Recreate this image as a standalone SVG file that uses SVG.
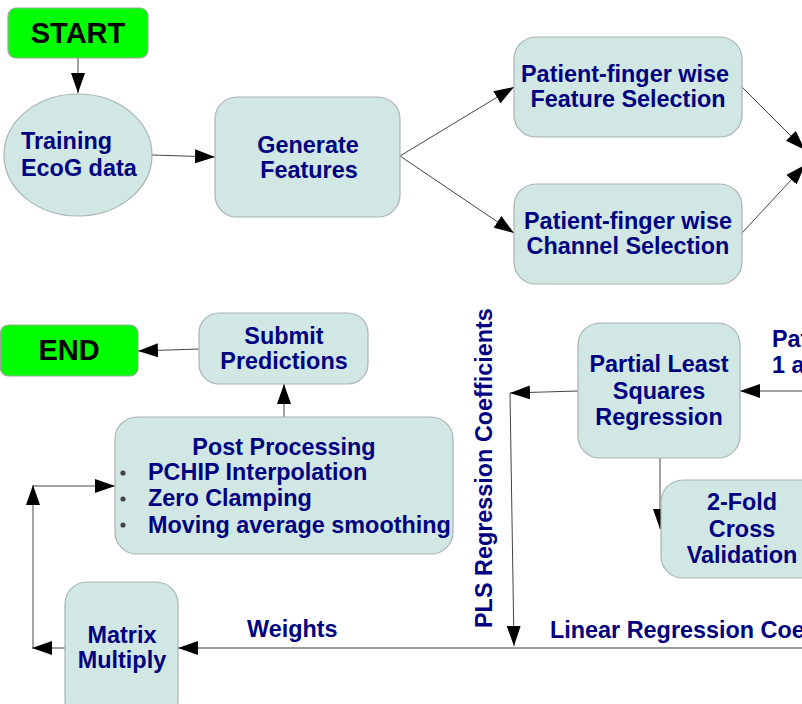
<svg xmlns="http://www.w3.org/2000/svg" width="802" height="704" viewBox="0 0 802 704">
<style>
.box{fill:#d0e7e4;stroke:#a9b3b1;stroke-width:1.2}
.term{fill:#00ff00;stroke:#9aa89a;stroke-width:1.2}
.t{font-family:"Liberation Sans",Arial,sans-serif;font-weight:bold;font-size:23.4px;fill:#000080}
.tc{text-anchor:middle}
.tt{font-family:"Liberation Sans",Arial,sans-serif;font-weight:bold;font-size:29px;fill:#000;text-anchor:middle}
.c{fill:none;stroke:#444;stroke-width:1;marker-end:url(#ah)}
.cg{fill:none;stroke:#999;stroke-width:2;marker-end:url(#ah)}
.dot{fill:#444}
</style>
<defs>
<marker id="ah" markerUnits="userSpaceOnUse" markerWidth="21" markerHeight="14" refX="20" refY="7" orient="auto" viewBox="0 0 21 14">
<path d="M0,0 L20,7 L0,14 z" fill="#000"/>
</marker>
</defs>
<rect width="802" height="704" fill="#fff"/>
<g id="connectors">
<line class="c" x1="78" y1="58" x2="78" y2="93"/>
<line class="c" x1="152" y1="155" x2="215" y2="157"/>
<line class="c" x1="400" y1="156" x2="514" y2="87"/>
<line class="c" x1="400" y1="156" x2="514" y2="233"/>
<line class="c" x1="742" y1="87" x2="805" y2="150"/>
<line class="c" x1="742" y1="233" x2="805" y2="165"/>
<line class="c" x1="810" y1="391" x2="740" y2="391"/>
<line class="c" x1="578" y1="391" x2="510" y2="393"/>
<line class="c" x1="510" y1="393" x2="514" y2="646"/>
<line class="c" x1="660" y1="458" x2="660" y2="529"/>
<line class="cg" x1="810" y1="648" x2="178" y2="648"/>
<line class="c" x1="65" y1="648" x2="32" y2="648"/>
<line class="c" x1="33" y1="648" x2="33" y2="485"/>
<line class="c" x1="33" y1="486" x2="115" y2="486"/>
<line class="c" x1="284" y1="417" x2="284" y2="384"/>
<line class="c" x1="199" y1="349" x2="138" y2="351"/>
</g>
<g id="start">
<rect class="term" x="8" y="8" width="140" height="50" rx="8"/>
<text class="tt" x="78" y="43">START</text>
</g>
<g id="training">
<ellipse class="box" cx="78" cy="155" rx="74" ry="61"/>
<text class="t" x="21" y="149">Training</text>
<text class="t" x="21" y="176">EcoG data</text>
</g>
<g id="generate">
<rect class="box" x="215" y="97" width="185" height="120" rx="22"/>
<text class="t tc" x="308" y="153">Generate</text>
<text class="t tc" x="309" y="178">Features</text>
</g>
<g id="feature-selection">
<rect class="box" x="514" y="37" width="228" height="100" rx="22"/>
<text class="t tc" x="625" y="82">Patient-finger wise</text>
<text class="t tc" x="628" y="107">Feature Selection</text>
</g>
<g id="channel-selection">
<rect class="box" x="514" y="184" width="228" height="100" rx="22"/>
<text class="t tc" x="628" y="229">Patient-finger wise</text>
<text class="t tc" x="628" y="254">Channel Selection</text>
</g>
<g id="end">
<rect class="term" x="0.5" y="325" width="137.5" height="51" rx="8"/>
<text class="tt" x="69" y="360">END</text>
</g>
<g id="submit">
<rect class="box" x="199" y="313" width="169" height="71" rx="20"/>
<text class="t tc" x="284" y="344">Submit</text>
<text class="t tc" x="284" y="369">Predictions</text>
</g>
<g id="post-processing">
<rect class="box" x="115" y="417" width="338" height="137" rx="22"/>
<text class="t tc" x="284" y="455">Post Processing</text>
<circle class="dot" cx="123" cy="473" r="2.6"/>
<circle class="dot" cx="123" cy="499" r="2.6"/>
<circle class="dot" cx="123" cy="525" r="2.6"/>
<text class="t" x="148" y="480">PCHIP Interpolation</text>
<text class="t" x="148" y="506">Zero Clamping</text>
<text class="t" x="148" y="533">Moving average smoothing</text>
</g>
<g id="pls">
<rect class="box" x="578" y="323" width="162" height="135" rx="22"/>
<text class="t tc" x="659" y="372">Partial Least</text>
<text class="t tc" x="659" y="399">Squares</text>
<text class="t tc" x="659" y="425">Regression</text>
</g>
<g id="cross-validation">
<rect class="box" x="661" y="480" width="162" height="98" rx="22"/>
<text class="t tc" x="742" y="510">2-Fold</text>
<text class="t tc" x="742" y="537">Cross</text>
<text class="t tc" x="742" y="563">Validation</text>
</g>
<g id="matrix-multiply">
<rect class="box" x="65" y="582" width="113" height="140" rx="22"/>
<text class="t tc" x="122" y="643">Matrix</text>
<text class="t tc" x="122" y="668">Multiply</text>
</g>
<g id="labels">
<text class="t" x="247" y="637">Weights</text>
<text class="t" x="550" y="638">Linear Regression Coe</text>
<text class="t" x="772" y="347">Pat</text>
<text class="t" x="772" y="373">1 a</text>
<text class="t" transform="translate(492,628) rotate(-90)">PLS Regression Coefficients</text>
</g>
</svg>
